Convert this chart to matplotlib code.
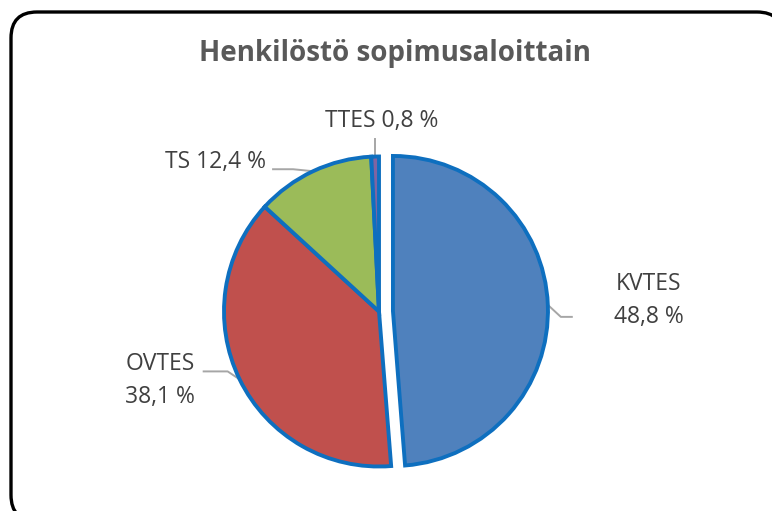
import matplotlib.pyplot as plt
import numpy as np
from matplotlib.patches import FancyBboxPatch

# data
sopimukset = ['KVTES', 'OVTES', 'TS', 'TTES']
osuudet = [48.8, 38.1, 12.4, 0.8]
varit = ['#4F81BD', '#C0504D', '#9BBB59', '#8064A2']
explode = [0.09, 0, 0, 0]   # fraction of radius

W, H = 772, 511
R = 155

fig = plt.figure(figsize=(W / 100, H / 100), dpi=100)
ax = fig.add_axes([0, 0, 1, 1])

# rounded frame around the whole chart
frame = FancyBboxPatch((11, -10), 772, 509, boxstyle="round,pad=0,rounding_size=26",
                       fc='white', ec='black', lw=2.4, zorder=0)
ax.add_patch(frame)

wedges, _ = ax.pie(osuudet, colors=varit, explode=[e * R for e in explode],
                   startangle=90, counterclock=False, center=(379, 199.5), radius=R,
                   wedgeprops=dict(edgecolor='#0E6FBF', linewidth=2.8),
                   frame=False)
for w in wedges:
    w.set_zorder(2)

ax.set_xlim(0, W)
ax.set_ylim(0, H)
ax.set_aspect('auto')
ax.axis('off')

ax.text(395, H - 53, 'Henkilöstö sopimusaloittain', ha='center', va='center',
        fontsize=20, fontweight='bold', color='#595959', family='Open Sans')

def fmt(v):
    return f'{v:.1f} %'.replace('.', ',')

# label layout: (elbow offset, end offset, text position, ha, two-line?)
layout = {
    'KVTES': ((13, -12), (24, -12), (649, H - 300), 'center', True),
    'OVTES': ((-12, 8), (-36, 8), (160, H - 380), 'center', True),
    'TS':    ((-20, 2), (-40, 2), (266, H - 162), 'right', False),
    'TTES':  ((0, 18), (0, 18), (382, H - 121), 'center', False),
}

txt_kw = dict(fontsize=16.5, color='#404040', family='Open Sans', va='center')
for w, name, v in zip(wedges, sopimukset, osuudet):
    mid = np.deg2rad((w.theta1 + w.theta2) / 2)
    cx, cy = w.center
    x0 = cx + w.r * np.cos(mid)
    y0 = cy + w.r * np.sin(mid)
    (ex, ey), (tx, ty), pos, ha, two = layout[name]
    ax.plot([x0, x0 + ex, x0 + tx], [y0, y0 + ey, y0 + ty],
            color='#A6A6A6', lw=1.4, zorder=1)
    s = f'{name}\n{fmt(v)}' if two else f'{name} {fmt(v)}'
    ax.text(pos[0], pos[1], s, ha=ha, multialignment='center',
            linespacing=1.5, **txt_kw)

fig.savefig('out.png', dpi=100)
plt.close(fig)
